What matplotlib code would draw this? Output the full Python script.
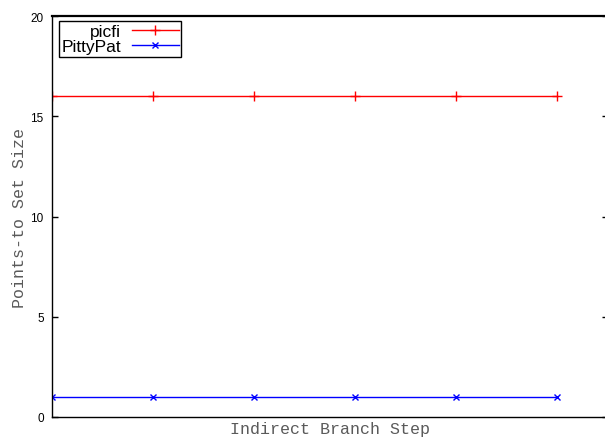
import matplotlib
matplotlib.use("Agg")
import matplotlib.pyplot as plt

steps = [1, 2, 3, 4, 5, 6]
picfi = [16, 16, 16, 16, 16, 16]
pittypat = [1, 1, 1, 1, 1, 1]
yticks = [0, 5, 10, 15, 20]

fig = plt.figure(figsize=(6.05, 4.39), dpi=100)
ax = fig.add_axes([52 / 605, 21 / 439, 556 / 605, 401 / 439])

ax.plot(steps, picfi, color="#ff0000", lw=1, marker="+", ms=6.5, mew=1, label="picfi")
ax.plot(steps, pittypat, color="#0000ff", lw=1, marker="x", ms=4.5, mew=1, label="PittyPat")

ax.set_xlim(1, 6.5)
ax.set_ylim(0, 20)
ax.set_xticks([])
ax.set_yticks(yticks)
ax.tick_params(axis="y", direction="in", length=4.5, width=1, right=True,
               labelsize=8.5, pad=6)
for lab in ax.get_yticklabels():
    lab.set_fontfamily("Liberation Sans")
for s in ax.spines.values():
    s.set_linewidth(1)
ax.spines["top"].set_linewidth(1.6)

mono = {"family": "Liberation Mono", "size": 12, "color": "#5a5a5a"}
ax.set_xlabel("Indirect Branch Step", fontdict=mono, labelpad=3)
ax.set_ylabel("Points-to Set Size", fontdict=mono)
ax.yaxis.set_label_coords(-0.045, 0.5)

leg = ax.legend(loc="upper left", bbox_to_anchor=(0.0126, 0.9875), borderaxespad=0,
                markerfirst=False, fancybox=False, framealpha=1, edgecolor="black",
                prop={"family": "Liberation Sans", "size": 12.5},
                handlelength=2.7, handletextpad=0.6, labelspacing=0.0,
                borderpad=0.15)
leg.get_frame().set_linewidth(1)

fig.savefig("out.png", dpi=100)
